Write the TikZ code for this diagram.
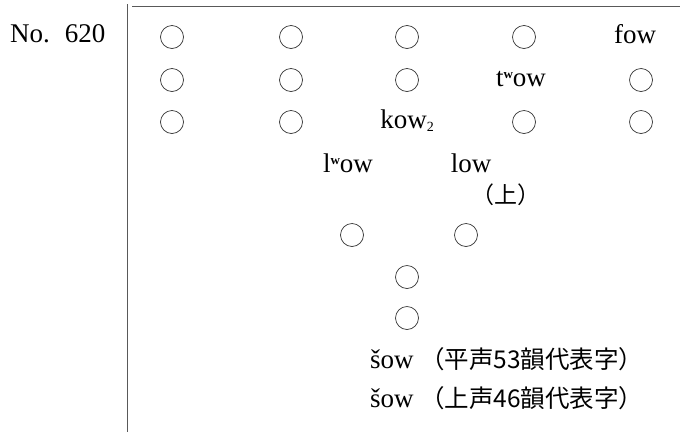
\documentclass[tikz,border=0pt]{standalone}
\usepackage{fontspec}
\setmainfont{Liberation Serif}
\newfontfamily\cjk{Noto Sans CJK JP}
\newcommand{\supw}{\raisebox{8pt}{\fontsize{13}{13}\selectfont\bfseries w}}
\begin{document}
\begin{tikzpicture}[x=1pt,y=-1pt,
  cir/.style={draw=black!80,circle,inner sep=0pt,minimum width=23pt,minimum height=22pt,line width=0.7pt},
  syl/.style={font=\fontsize{27}{27}\selectfont,inner sep=0pt,anchor=base},
  note/.style={font=\cjk\fontsize{23}{23}\selectfont,inner sep=0pt},
  rule/.style={line width=0.6pt,black!65}]
\useasboundingbox (0,0) rectangle (680,432);
\node[syl,anchor=base west] (no) at (10,42) {No.\hspace{15pt}620};
\coordinate (vt) at (127,4);
\coordinate (vb) at (127,432);
\draw[rule] (vt) -- (vb);
\coordinate (ht) at (132,6);
\coordinate (hb) at (680,6);
\draw[rule] (ht) -- (hb);
% row 1
\node[cir] (a1) at (172,37) {};
\node[cir] (a2) at (291,37) {};
\node[cir] (a3) at (407,37) {};
\node[cir] (a4) at (524,37) {};
\node[syl] (a5) at (635,43) {fow};
% row 2
\node[cir] (b1) at (172,80) {};
\node[cir] (b2) at (291,80) {};
\node[cir] (b3) at (407,80) {};
\node[syl] (b4) at (521,86) {t\supw ow};
\node[cir] (b5) at (641,80) {};
% row 3
\node[cir] (c1) at (172,122) {};
\node[cir] (c2) at (291,122) {};
\node[syl] (c3) at (407,128) {kow\raisebox{-3pt}{\fontsize{14}{14}\selectfont 2}};
\node[cir] (c4) at (524,122) {};
\node[cir] (c5) at (641,122) {};
% lower
\node[syl] (d1) at (348,172) {l\supw ow};
\node[syl] (d2) at (471,172) {low};
\node[note] (d3) at (506,195) {（上）};
\node[cir] (e1) at (352,235) {};
\node[cir] (e2) at (466,235) {};
\node[cir] (f1) at (407,277) {};
\node[cir] (g1) at (407,318) {};
\node[syl,anchor=base west] (h1) at (370,368) {\makebox[50pt][l]{šow}{\cjk\fontsize{24.5}{24.5}\selectfont （平声53韻代表字）}};
\node[syl,anchor=base west] (h2) at (370,407) {\makebox[50pt][l]{šow}{\cjk\fontsize{24.5}{24.5}\selectfont （上声46韻代表字）}};
\end{tikzpicture}
\end{document}
